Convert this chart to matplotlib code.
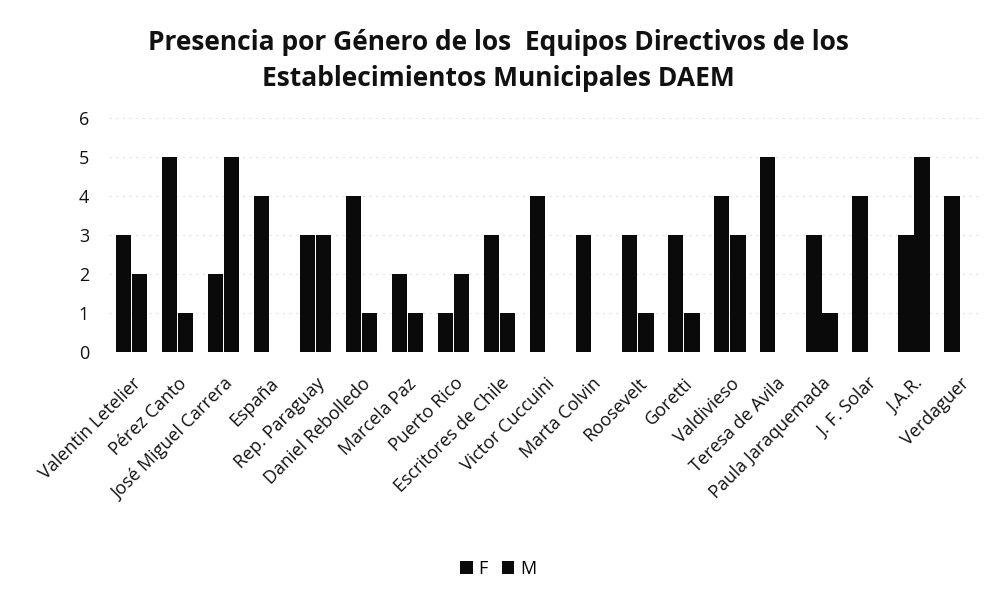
import matplotlib
matplotlib.use('agg')
import matplotlib.pyplot as plt
import numpy as np

escuelas = ["Valentin Letelier", "Pérez Canto", "José Miguel Carrera", "España",
            "Rep. Paraguay", "Daniel Rebolledo", "Marcela Paz", "Puerto Rico",
            "Escritores de Chile", "Victor Cuccuini", "Marta Colvin", "Roosevelt",
            "Goretti", "Valdivieso", "Teresa de Avila", "Paula Jaraquemada",
            "J. F. Solar", "J.A.R.", "Verdaguer"]
fem = [3, 5, 2, 4, 3, 4, 2, 1, 3, 4, 3, 3, 3, 4, 5, 3, 4, 3, 4]
masc = [2, 1, 5, 0, 3, 1, 1, 2, 1, 0, 0, 1, 1, 3, 0, 1, 0, 5, 0]

plt.rcParams['font.family'] = ['Open Sans', 'DejaVu Sans']

fig = plt.figure(figsize=(9.96, 5.94), dpi=100)
ax = fig.add_axes([0.109, 0.407, 0.878, 0.394])

x = np.arange(len(escuelas))
w = 0.33
ax.bar(x - w / 2 - 0.01, fem, w, color='#0a0a0a', label='F', zorder=3)
ax.bar(x + w / 2 + 0.01, masc, w, color='#0a0a0a', label='M', zorder=3)

ax.set_xlim(-0.5, len(escuelas) - 0.5)
ax.set_ylim(0, 6)
ax.set_yticks(range(7))
ax.yaxis.grid(True, color='#e4e4e4', linewidth=0.8, linestyle=(0, (2, 4)), zorder=0)
for s in ax.spines.values():
    s.set_visible(False)
ax.tick_params(axis='both', length=0, labelsize=13, colors='#111111')
ax.tick_params(axis='y', pad=14)
ax.tick_params(axis='x', pad=16)
ax.set_xticks(x)
ax.set_xticklabels(escuelas, rotation=45, ha='right', rotation_mode='anchor')

fig.suptitle("Presencia por Género de los  Equipos Directivos de los\nEstablecimientos Municipales DAEM",
             x=0.5, y=0.952, fontsize=19, fontweight='bold', linespacing=1.45, color='#111111')

fig.legend(loc='lower center', bbox_to_anchor=(0.5, 0.0), ncol=2, frameon=False,
           fontsize=13, handlelength=0.7, handleheight=0.7, handletextpad=0.3,
           columnspacing=0.8)

plt.savefig('out.png', dpi=100)
